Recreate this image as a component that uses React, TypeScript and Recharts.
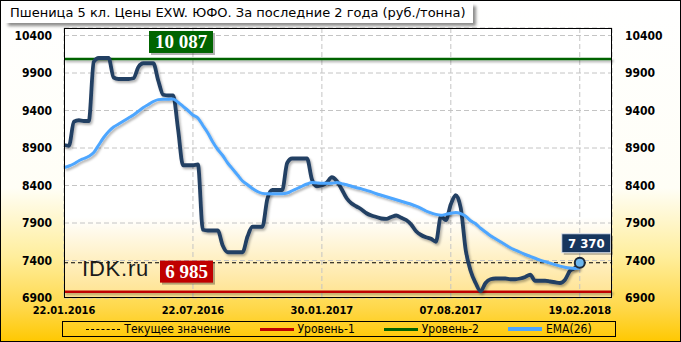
import React from "react";
import {
  CartesianGrid,
  ComposedChart,
  Line,
  ReferenceDot,
  ReferenceLine,
  XAxis,
  YAxis,
} from "recharts";

// weekly prices, rub/tonne, from 22.01.2016 to 19.02.2018
const dateLabels = ["22.01.2016", "22.07.2016", "30.01.2017", "07.08.2017", "19.02.2018"];
const dateTicks = [0, 26, 52, 78, 104];
const price = [
  8940, 8930, 9250, 9270, 9260, 9260, 10050, 10100, 10100, 10100,
  9840, 9820, 9820, 9820, 9830, 9980, 10030, 10030, 10030, 9800,
  9610, 9600, 9600, 9150, 8670, 8670, 8670, 8680, 7810, 7800,
  7800, 7800, 7600, 7510, 7510, 7510, 7510, 7720, 7850, 7850,
  7850, 8220, 8340, 8340, 8340, 8700, 8760, 8760, 8760, 8760,
  8480, 8390, 8400, 8440, 8510, 8460, 8350, 8230, 8160, 8120,
  8080, 8030, 8000, 7980, 7960, 7955, 7980, 8000, 7970, 7940,
  7880, 7790, 7740, 7710, 7690, 7650, 7990, 7940, 8150, 8270,
  8100, 7540, 7260, 7100, 6990, 7100, 7150, 7160, 7160, 7160,
  7150, 7150, 7160, 7180, 7210, 7130, 7130, 7130, 7120, 7110,
  7100, 7140, 7260, 7300, 7370,
];
const ema26 = [
  8640, 8660, 8690, 8730, 8760, 8790, 8840, 8940, 9040, 9120,
  9180, 9220, 9260, 9300, 9340, 9390, 9440, 9480, 9520, 9545,
  9550, 9550, 9555, 9510, 9455, 9400, 9340, 9300, 9200, 9100,
  8980, 8880, 8800, 8700, 8620, 8540, 8460, 8410, 8360, 8320,
  8295, 8290, 8290, 8290, 8290, 8300, 8330, 8360, 8390, 8420,
  8440, 8435, 8430, 8430, 8430, 8440, 8425, 8410, 8390, 8370,
  8355, 8335, 8315, 8290, 8270, 8250, 8230, 8210, 8190, 8170,
  8150, 8125, 8095, 8060, 8035, 8015, 8005, 8015, 8030, 8040,
  8025, 7990, 7930, 7890, 7830, 7780, 7730, 7690, 7650, 7610,
  7570, 7540, 7510, 7480, 7455, 7430, 7405, 7385, 7365, 7345,
  7325, 7310, 7300, 7295, 7300,
];
const yTicks = [6900, 7400, 7900, 8400, 8900, 9400, 9900, 10400];
const currentValue = 7370;
const level1 = 6985;
const level2 = 10087;

const data = price.map((p, i) => ({ i, price: p, ema: ema26[i] }));

const tahoma = "'DejaVu Sans Condensed', 'DejaVu Sans', sans-serif";
const fmt = (v: number) => String(v).replace(/\B(?=(\d{3})+(?!\d))/g, " ");

function LevelLabel({ viewBox, value, color, dx, dy, w }: any) {
  const x = viewBox.x + dx;
  const y = viewBox.y + dy;
  return (
    <g>
      <rect x={x + 2} y={y + 2} width={w} height={22} fill="rgba(0,0,0,0.3)" />
      <rect x={x} y={y} width={w} height={22} fill={color} />
      <text
        x={x + w / 2}
        y={y + 17}
        textAnchor="middle"
        fill="#fff"
        fontFamily="'Liberation Serif', serif"
        fontWeight={700}
        fontSize={19}
      >
        {fmt(value)}
      </text>
    </g>
  );
}

function CurrentLabel({ viewBox }: any) {
  const cx = viewBox.x + viewBox.width / 2;
  const cy = viewBox.y + viewBox.height / 2;
  const x = cx - 18;
  const y = cy - 29;
  return (
    <g>
      <rect x={x + 2} y={y + 2} width={49} height={19} fill="rgba(0,0,0,0.3)" />
      <rect x={x} y={y} width={49} height={19} fill="#17365d" stroke="#dfe6ef" strokeWidth={1} />
      <text
        x={x + 24.5}
        y={y + 14}
        textAnchor="middle"
        fill="#fff"
        fontFamily={tahoma}
        fontWeight={700}
        fontSize={13}
      >
        {fmt(currentValue)}
      </text>
    </g>
  );
}

function LegendBox() {
  const items = [
    { name: "Текущее значение", color: "#000", dash: true, w: 3 },
    { name: "Уровень-1", color: "#c00000", dash: false, w: 3 },
    { name: "Уровень-2", color: "#006400", dash: false, w: 3 },
    { name: "EMA(26)", color: "#4da6ff", dash: false, w: 4 },
  ];
  return (
    <div
      style={{
        position: "absolute",
        left: 62,
        top: 321,
        width: 552,
        height: 14,
        border: "1px solid #000",
        display: "flex",
        justifyContent: "center",
        alignItems: "center",
        gap: 29,
        fontFamily: tahoma,
        fontSize: 12,
        color: "#000",
      }}
    >
      {items.map((it) => (
        <div key={it.name} style={{ display: "flex", alignItems: "center" }}>
          <div
            style={{
              width: 34,
              height: 0,
              borderTop: `${it.dash ? 1 : it.w}px ${it.dash ? "dashed" : "solid"} ${it.color}`,
              marginRight: 4,
            }}
          />
          <span>{it.name}</span>
        </div>
      ))}
    </div>
  );
}

export default function App() {
  return (
    <div
      style={{
        position: "absolute",
        left: 0,
        top: 0,
        width: 681,
        height: 342,
        background:
          "linear-gradient(to bottom, #ffffff 0%, #fffef6 55%, #ffee9c 75%, #ffd84a 90%, #ffc800 100%)",
      }}
    >
      <ComposedChart
        width={681}
        height={342}
        data={data}
        margin={{ top: 28, right: 0, bottom: 24, left: 0 }}
      >
        <defs>
          <linearGradient id="plotBg" x1="0" y1="0" x2="0" y2="1">
            <stop offset="0" stopColor="#ffffff" />
            <stop offset="0.7" stopColor="#ffffff" />
            <stop offset="1" stopColor="#ffe28c" />
          </linearGradient>
          <filter id="shadow" filterUnits="userSpaceOnUse" x="0" y="0" width="681" height="342">
            <feDropShadow dx="1.5" dy="2" stdDeviation="1" floodColor="#000" floodOpacity="0.3" />
          </filter>
        </defs>
        <CartesianGrid
          stroke="#c4c4c4"
          strokeDasharray="5 3"
          fill="url(#plotBg)"
          fillOpacity={1}
        />
        <XAxis
          dataKey="i"
          type="number"
          domain={[0, 110.5]}
          ticks={dateTicks}
          tickFormatter={(v, idx) => dateLabels[idx]}
          axisLine={false}
          tickLine={false}
          height={20}
          tick={{ fontFamily: tahoma, fontSize: 11, fontWeight: 700, fill: "#000" }}
        />
        <YAxis
          domain={[6900, 10500]}
          ticks={yTicks}
          allowDataOverflow
          width={64}
          axisLine={false}
          tickLine={false}
          tickMargin={6}
          tick={{ fontFamily: tahoma, fontSize: 12, fontWeight: 700, fill: "#000" }}
        />
        <YAxis
          yAxisId="r"
          orientation="right"
          domain={[6900, 10500]}
          ticks={yTicks}
          allowDataOverflow
          width={69}
          axisLine={false}
          tickLine={false}
          tickMargin={7}
          tick={{ fontFamily: tahoma, fontSize: 12, fontWeight: 700, fill: "#000" }}
        />
        <ReferenceLine
          y={currentValue}
          stroke="#000"
          strokeDasharray="4 3"
          strokeWidth={1}
        />
        <ReferenceLine
          y={level2}
          stroke="#006400"
          strokeWidth={2.5}
          filter="url(#shadow)"
          label={(p: any) => (
            <LevelLabel viewBox={p.viewBox} value={level2} color="#006400" dx={85} dy={-28} w={64} />
          )}
        />
        <ReferenceLine
          y={level1}
          stroke="#c00000"
          strokeWidth={2.5}
          filter="url(#shadow)"
          label={(p: any) => (
            <LevelLabel viewBox={p.viewBox} value={level1} color="#c00000" dx={96} dy={-31} w={53} />
          )}
        />
        <Line
          type="monotone"
          dataKey="price"
          stroke="#233f63"
          strokeWidth={3.8}
          dot={false}
          filter="url(#shadow)"
          isAnimationActive={false}
        />
        <Line
          type="monotone"
          dataKey="ema"
          stroke="#4da6ff"
          strokeWidth={3}
          dot={false}
          filter="url(#shadow)"
          isAnimationActive={false}
        />
        <ReferenceDot
          x={data.length - 1}
          y={currentValue}
          r={5}
          fill="#6cb6ee"
          stroke="#1c2838"
          strokeWidth={2}
          label={(p: any) => <CurrentLabel viewBox={p.viewBox} />}
        />
      </ComposedChart>

      {/* plot frame */}
      <div
        style={{
          position: "absolute",
          left: 64,
          top: 28,
          width: 548,
          height: 270,
          boxSizing: "border-box",
          border: "1px solid #000",
          pointerEvents: "none",
        }}
      />

      <div
        style={{
          position: "absolute",
          left: 82,
          top: 256,
          fontFamily: "'Liberation Sans', Arial, sans-serif",
          fontSize: 22,
          letterSpacing: 0.8,
          color: "#1a1a1a",
          lineHeight: "26px",
        }}
      >
        IDK.ru
      </div>

      <div
        style={{
          position: "absolute",
          left: 5,
          top: 3,
          width: 468,
          height: 20,
          background: "#fff",
          boxShadow: "3px 3px 3px rgba(0,0,0,0.45)",
          fontFamily: "'DejaVu Sans', sans-serif",
          fontSize: 13,
          lineHeight: "20px",
          paddingLeft: 5,
          boxSizing: "border-box",
          color: "#000",
          whiteSpace: "nowrap",
        }}
      >
        Пшеница 5 кл. Цены EXW. ЮФО. За последние 2 года (руб./тонна)
      </div>

      <LegendBox />

      <div
        style={{
          position: "absolute",
          left: 0,
          top: 0,
          width: 681,
          height: 342,
          boxSizing: "border-box",
          border: "1px solid #000",
          pointerEvents: "none",
        }}
      />
    </div>
  );
}
